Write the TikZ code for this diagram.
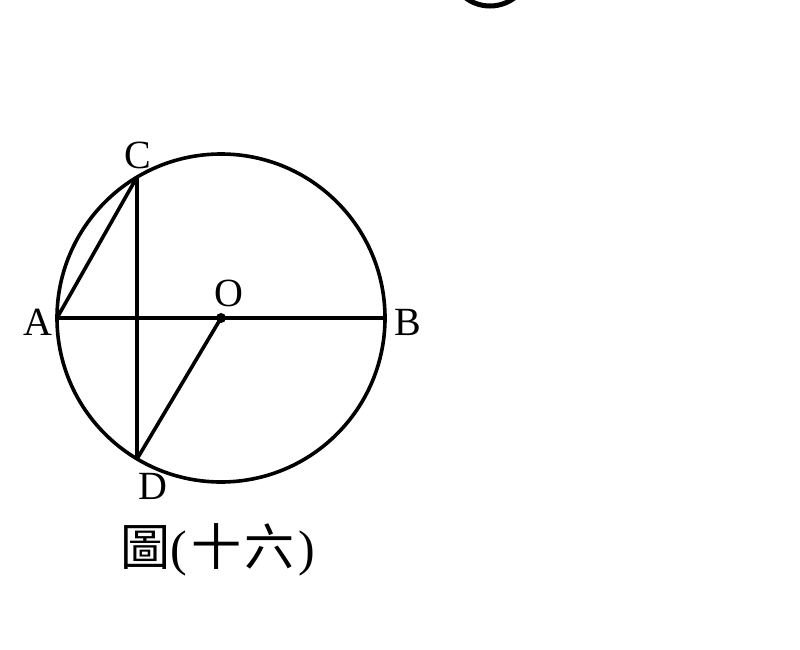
\documentclass[tikz,border=0pt]{standalone}
\usepackage{fontspec}
\setmainfont{Liberation Serif}
\newfontfamily\cjk{Noto Sans CJK TC}
\begin{document}
\begin{tikzpicture}[x=1pt,y=-1pt,
  geo/.style={line width=3.6pt,black},
  lbl/.style={font=\fontsize{40}{44}\selectfont,inner sep=0pt}]
\useasboundingbox (0,0) rectangle (800,650);
\begin{scope}
\clip (0,0) rectangle (800,650);
\draw[line width=5pt] (490,-34.5) circle (40.5);
\end{scope}
\coordinate (O) at (221,318);
\coordinate (A) at (57,318);
\coordinate (B) at (385,318);
\coordinate (C) at (137,177);
\coordinate (D) at (137,459);
\draw[geo] (O) circle (164);
\draw[geo] (A) -- (B);
\draw[geo] (C) -- (D);
\draw[geo] (A) -- (C);
\draw[geo] (O) -- (D);
\fill (O) circle (5);
\node[lbl] (lc) at (138,155) {C};
\node[lbl] (la) at (38,322) {A};
\node[lbl] (lo) at (229,293) {O};
\node[lbl] (lb) at (408,322) {B};
\node[lbl] (ld) at (153,486) {D};
\node[lbl,font=\fontsize{50}{54}\selectfont] (cap) at (218,550) {{\cjk 圖}(\kern4pt{\cjk 十\kern3pt 六}\kern4pt)};
\end{tikzpicture}
\end{document}
